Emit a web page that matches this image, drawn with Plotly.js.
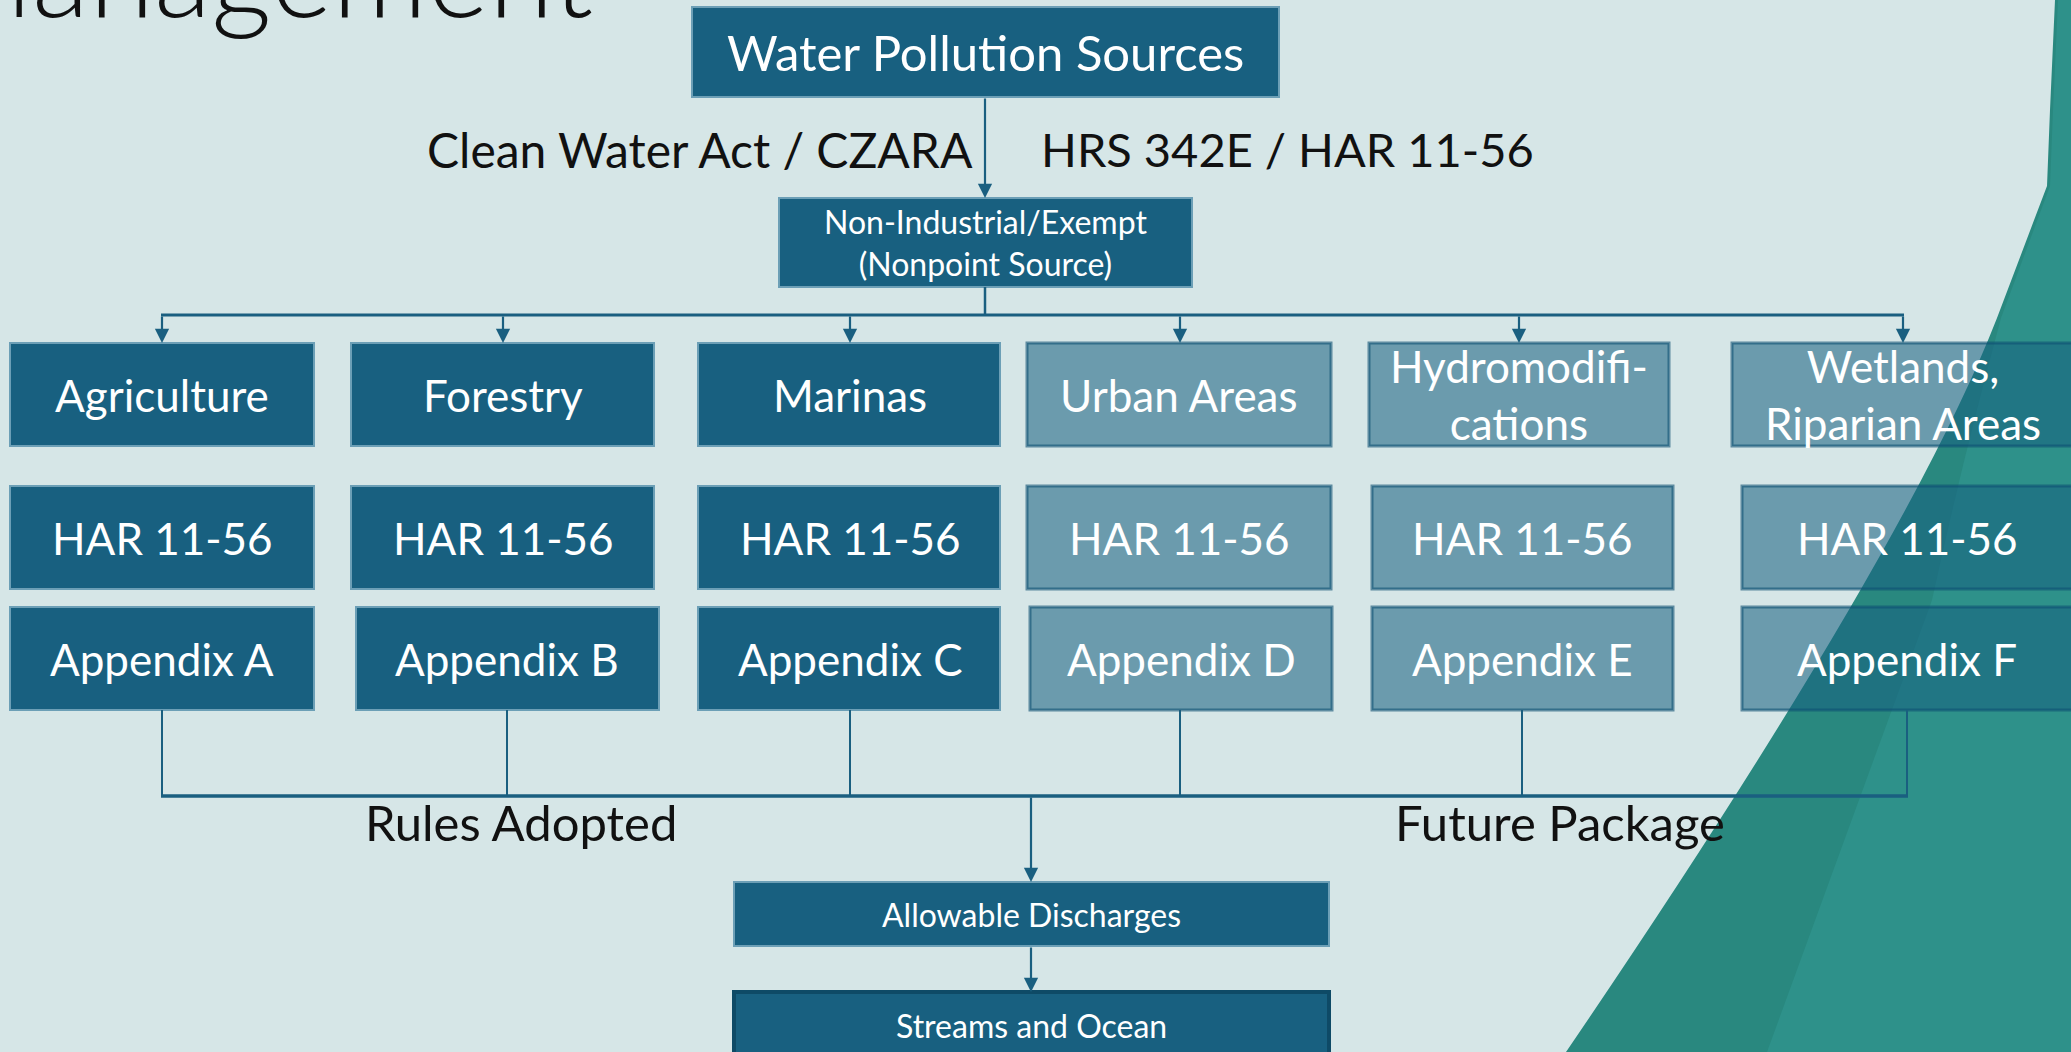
<!DOCTYPE html>
<html><head><meta charset="utf-8">
<script src="https://cdn.plot.ly/plotly-3.0.1.min.js"></script>
<style>html,body{margin:0;padding:0;background:#d6e6e7;overflow:hidden}</style>
</head><body><div id="chart" style="width:2071px;height:1052px"></div>
<script>
// ---------- content ----------
const titleText = "Management";
const sourceBox = "Water Pollution Sources";
const lawLeft = "Clean Water Act / CZARA";
const lawRight = "HRS 342E / HAR 11-56";
const nonpointBox = "Non-Industrial/Exempt<br>(Nonpoint Source)";
const categories = ["Agriculture", "Forestry", "Marinas", "Urban Areas", "Hydromodifi-<br>cations", "Wetlands,<br>Riparian Areas"];
const ruleLabels = ["HAR 11-56", "HAR 11-56", "HAR 11-56", "HAR 11-56", "HAR 11-56", "HAR 11-56"];
const appendixLabels = ["Appendix A", "Appendix B", "Appendix C", "Appendix D", "Appendix E", "Appendix F"];
const adopted = [true, true, true, false, false, false];
const groupLabels = ["Rules Adopted", "Future Package"];
const outcomeLabels = ["Allowable Discharges", "Streams and Ocean"];

// ---------- layout geometry (pixel axes) ----------
const G = {
  rowY: [[343, 446], [486, 589], [607, 710]],
  rowLeft: [[10, 351, 698, 1027, 1369, 1732], [10, 351, 698, 1027, 1372, 1742], [10, 356, 698, 1030, 1372, 1742]],
  rowRight: [[314, 654, 1000, 1331, 1669, 2085], [314, 654, 1000, 1331, 1673, 2085], [314, 659, 1000, 1332, 1673, 2085]],
  textX: [[162, 503, 850, 1179, 1519, 1903], [162, 503, 850, 1179, 1522, 1907], [162, 507, 850, 1181, 1522, 1907]],
  arrowX: [162, 503, 850, 1180, 1519, 1903],
  dropX: [162, 507, 850, 1180, 1522, 1907],
  branchY: 315, mergeY: 796,
  source: [692, 1279, 7, 97], nonpoint: [779, 1192, 198, 287],
  outcomes: [[734, 1329, 882, 946], [734, 1329, 992, 1075]],
  trunkX: 985, outX: 1031
};

const C = {
  bg: '#d6e6e7', dark: '#186080', darkEdge: '#6c9fb6',
  light: 'rgba(24,96,128,0.56)', lightEdge: 'rgba(14,80,115,0.6)',
  line: '#1a5f80', tealA: '#2e918a', tealB: '#29887f', ink: '#111111'
};
const FONT = 'Lato, "Open Sans", sans-serif';
const FS = {title: 118, big: 49, law: 47, box: 44, small: 32};

const shapes = [];
const annotations = [];

// decorative teal facet at right: darker base, lighter facet on top
shapes.push({type: 'path', xref: 'x', yref: 'y',
  path: 'M 2055 0 L 2050 110 L 2047 186 L 1997 318 Q 1905 554 1566 1052 L 2071 1052 L 2071 0 Z',
  fillcolor: C.tealB, line: {width: 0}});
shapes.push({type: 'path', xref: 'x', yref: 'y',
  path: 'M 2058 0 L 2053 110 L 2050 186 L 2001 318 Q 1960 470 1932 600 L 1767 1052 L 2071 1052 L 2071 0 Z',
  fillcolor: C.tealA, line: {width: 0}});

function box(b, fill, edge, w) {
  shapes.push({type: 'rect', xref: 'x', yref: 'y', x0: b[0], x1: b[1], y0: b[2], y1: b[3],
    fillcolor: fill, line: {color: edge, width: w}});
}
function label(text, x, y, size, color, extra) {
  annotations.push(Object.assign({x: x, y: y, xref: 'x', yref: 'y', text: text, showarrow: false,
    xanchor: 'center', yanchor: 'middle', font: {family: FONT, size: size, color: color}}, extra || {}));
}
function arrow(x, yTail, yHead) {
  annotations.push({x: x, y: yHead, ax: x, ay: yTail, xref: 'x', yref: 'y', axref: 'x', ayref: 'y',
    text: '', showarrow: true, arrowhead: 2, arrowsize: 1.3, arrowwidth: 2.2, arrowcolor: C.line, standoff: 0});
}
function seg(x0, y0, x1, y1, w) {
  shapes.push({type: 'line', xref: 'x', yref: 'y', x0: x0, y0: y0, x1: x1, y1: y1, line: {color: C.line, width: w}});
}

// slide title (cut off at the top edge, as in the reference)
label(titleText, 595, 0, FS.title, C.ink, {xanchor: 'right', yshift: 29, font: {family: FONT, size: FS.title, color: C.ink, weight: 300}});

// top boxes
box(G.source, C.dark, C.darkEdge, 2);
label(sourceBox, (G.source[0] + G.source[1]) / 2, (G.source[2] + G.source[3]) / 2, FS.big, '#ffffff');
arrow(G.trunkX, G.source[3], G.nonpoint[2]);
label(lawLeft, 975, 149, FS.law + 1, C.ink, {xanchor: 'right'});
label(lawRight, 1039, 149, FS.law, C.ink, {xanchor: 'left'});
box(G.nonpoint, C.dark, C.darkEdge, 2);
label(nonpointBox, (G.nonpoint[0] + G.nonpoint[1]) / 2, (G.nonpoint[2] + G.nonpoint[3]) / 2, FS.small, '#ffffff');

// branch
seg(G.trunkX, G.nonpoint[3], G.trunkX, G.branchY, 2.5);
seg(G.arrowX[0] - 1, G.branchY, G.arrowX[5] + 1, G.branchY, 3);
G.arrowX.forEach(x => arrow(x, G.branchY, G.rowY[0][0]));

// rows of category / rule / appendix boxes
const rows = [categories, ruleLabels, appendixLabels];
rows.forEach((labels, r) => {
  labels.forEach((t, i) => {
    const b = [G.rowLeft[r][i], G.rowRight[r][i], G.rowY[r][0], G.rowY[r][1]];
    if (adopted[i]) box(b, C.dark, C.darkEdge, 2); else box(b, C.light, C.lightEdge, 3);
    label(t, G.textX[r][i], (b[2] + b[3]) / 2, FS.box, '#ffffff');
  });
});

// merge
G.dropX.forEach(x => seg(x, G.rowY[2][1], x, G.mergeY, 2));
seg(G.dropX[0] - 1, G.mergeY, G.dropX[5] + 1, G.mergeY, 3.5);
label(groupLabels[0], 521, 822, FS.big, C.ink);
label(groupLabels[1], 1560, 822, FS.big, C.ink);

// outcomes
arrow(G.outX, G.mergeY, G.outcomes[0][2]);
box(G.outcomes[0], C.dark, C.darkEdge, 2);
label(outcomeLabels[0], 1031, 914, FS.small, '#ffffff');
arrow(G.outX, G.outcomes[0][3], G.outcomes[1][2]);
box(G.outcomes[1], C.dark, '#0e4a66', 4);
label(outcomeLabels[1], 1031, 1025, FS.small, '#ffffff');

const layout = {
  width: 2071, height: 1052,
  margin: {l: 0, r: 0, t: 0, b: 0, pad: 0},
  paper_bgcolor: C.bg, plot_bgcolor: C.bg,
  xaxis: {range: [0, 2071], visible: false, fixedrange: true},
  yaxis: {range: [1052, 0], visible: false, fixedrange: true},
  showlegend: false,
  shapes: shapes, annotations: annotations
};
Plotly.newPlot('chart', [], layout, {displayModeBar: false, staticPlot: true});
</script></body></html>
